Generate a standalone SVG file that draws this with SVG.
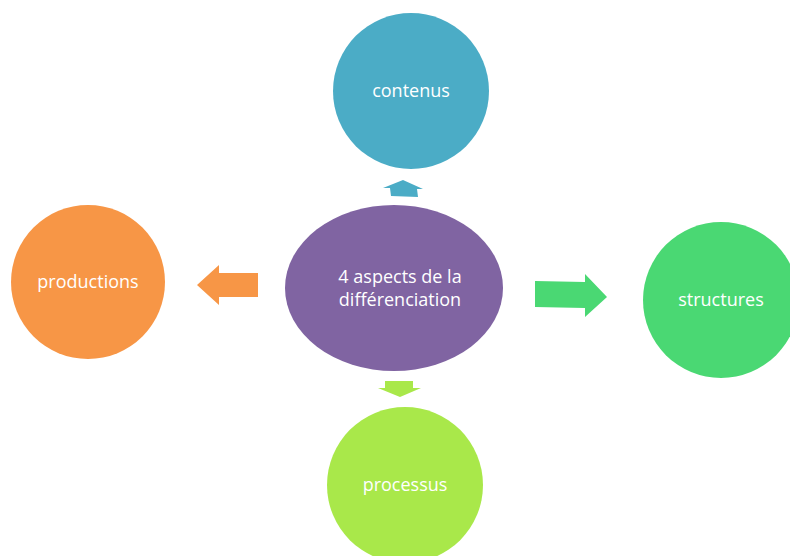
<svg xmlns="http://www.w3.org/2000/svg" width="790" height="556" viewBox="0 0 790 556">
<style>
text{font-family:"Open Sans","Liberation Sans",sans-serif;font-size:18px;fill:#ffffff;text-anchor:middle}
</style>
<rect width="790" height="556" fill="#ffffff"/>
<g id="connectors">
<polygon points="391,196 390,188 383,188 403,180 423,189 417,189 418,197" fill="#4BACC6"/>
<polygon points="258,273 219,273 219,265 197,285 219,305 219,297 258,297" fill="#F79646"/>
<polygon points="535,281 585,282 585,274 607,297 585,317 585,308 535,307" fill="#4AD873"/>
<polygon points="385,381 413,381 413,388 421,388 400,397 378,388 385,388" fill="#A9E84A"/>
</g>
<g id="center"><ellipse cx="394" cy="288" rx="109" ry="83" fill="#8064A2"/><text x="400" y="283">4 aspects de la</text><text x="400" y="306">différenciation</text></g>
<g id="contenus"><circle cx="411" cy="91" r="78" fill="#4BACC6"/><text x="411" y="97">contenus</text></g>
<g id="productions"><circle cx="88" cy="282" r="77" fill="#F79646"/><text x="88" y="288">productions</text></g>
<g id="structures"><circle cx="721" cy="300" r="78" fill="#4AD873"/><text x="721" y="306">structures</text></g>
<g id="processus"><circle cx="405" cy="485" r="78" fill="#A9E84A"/><text x="405" y="491">processus</text></g>
</svg>
